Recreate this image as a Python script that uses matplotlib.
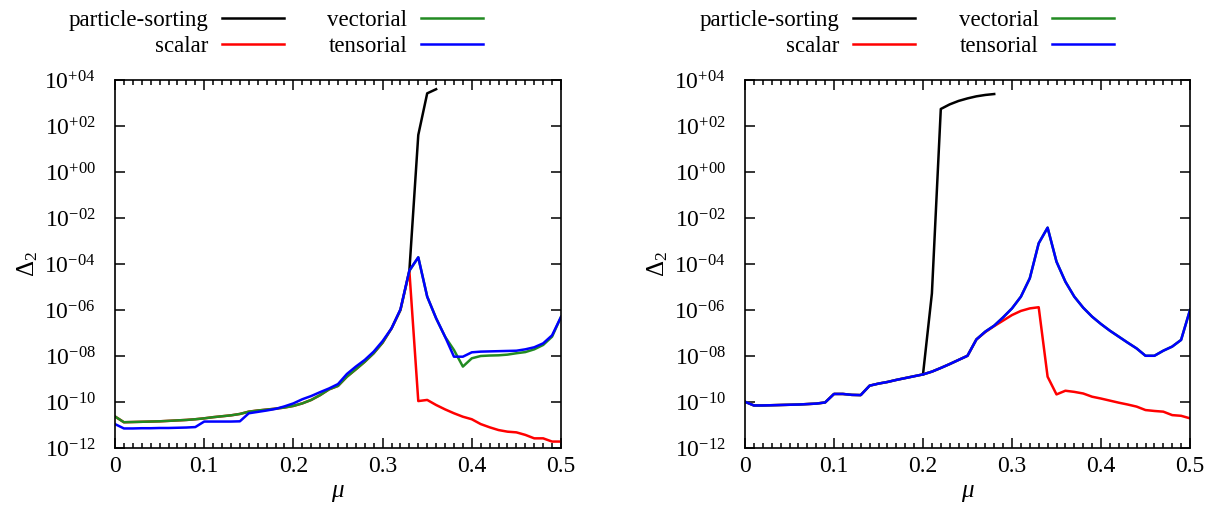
import numpy as np
import matplotlib
matplotlib.use("Agg")
import matplotlib.pyplot as plt
from matplotlib.ticker import FixedLocator, MultipleLocator, NullLocator, FuncFormatter

plt.rcParams['font.family'] = ['Liberation Serif', 'DejaVu Serif']
plt.rcParams['mathtext.fontset'] = 'custom'
plt.rcParams['mathtext.rm'] = 'Liberation Serif'
plt.rcParams['mathtext.it'] = 'Liberation Serif:italic'

# ---------------- data (log10 of Delta_2) ----------------
mu = np.round(np.arange(51) * 0.01, 2)

# left panel
left_vectorial = [-10.63, -10.88, -10.87, -10.86, -10.85, -10.84, -10.82, -10.80, -10.78, -10.75,
                  -10.71, -10.66, -10.62, -10.58, -10.52, -10.42, -10.37, -10.33, -10.29, -10.24,
                  -10.17, -10.06, -9.91, -9.70, -9.45, -9.30, -8.90, -8.58, -8.25, -7.88,
                  -7.42, -6.80, -6.00, -4.30, -3.71, -5.42, -6.36, -7.16, -7.74, -8.46,
                  -8.10, -8.00, -7.98, -7.97, -7.94, -7.88, -7.83, -7.71, -7.52, -7.16,
                  -6.30]
left_tensorial = [-10.96, -11.15, -11.15, -11.14, -11.14, -11.13, -11.13, -11.12, -11.11, -11.09,
                  -10.85, -10.85, -10.85, -10.85, -10.84, -10.49, -10.43, -10.37, -10.30, -10.19,
                  -10.06, -9.88, -9.74, -9.57, -9.41, -9.22, -8.78, -8.46, -8.17, -7.81,
                  -7.35, -6.80, -5.97, -4.28, -3.71, -5.42, -6.36, -7.16, -8.03, -8.03,
                  -7.84, -7.81, -7.80, -7.79, -7.78, -7.77, -7.71, -7.62, -7.45, -7.10,
                  -6.30]
left_scalar_tail = [-9.96, -9.91, -10.13, -10.32, -10.49, -10.64, -10.75, -10.96, -11.10, -11.22,
                    -11.29, -11.32, -11.43, -11.58, -11.58, -11.72, -11.72]
left_scalar = left_vectorial[:34] + left_scalar_tail
left_ps_mu = [0.33, 0.34, 0.35, 0.36]
left_ps = [-4.30, 1.61, 3.42, 3.60]

# right panel
right_tensorial = [-9.99, -10.15, -10.15, -10.14, -10.13, -10.12, -10.11, -10.09, -10.07, -10.02,
                   -9.65, -9.65, -9.69, -9.70, -9.29, -9.20, -9.13, -9.04, -8.96, -8.88,
                   -8.80, -8.68, -8.52, -8.35, -8.17, -7.99, -7.28, -6.94, -6.68, -6.32,
                   -5.93, -5.42, -4.62, -3.10, -2.42, -3.90, -4.77, -5.42, -5.90, -6.29,
                   -6.61, -6.90, -7.16, -7.42, -7.67, -7.99, -7.99, -7.77, -7.59, -7.30,
                   -6.00]
right_vectorial = list(right_tensorial)
right_scalar_tail = [-6.96, -6.70, -6.46, -6.22, -6.04, -5.93, -5.88, -8.90, -9.67, -9.51,
                     -9.56, -9.63, -9.77, -9.85, -9.94, -10.03, -10.11, -10.20, -10.35, -10.39,
                     -10.42, -10.57, -10.60, -10.71]
right_scalar = right_tensorial[:27] + right_scalar_tail
right_ps_mu = [0.20, 0.21, 0.22, 0.23, 0.24, 0.25, 0.26, 0.27, 0.28]
right_ps = [-8.80, -5.28, 2.74, 2.94, 3.09, 3.20, 3.29, 3.35, 3.39]

labels = ['particle-sorting', 'scalar', 'vectorial', 'tensorial']
colors = ['black', '#ff0000', '#228b22', '#0000ff']

W, H = 1217, 513
fig = plt.figure(figsize=(W / 100, H / 100), dpi=100)
ax1 = fig.add_axes([115 / W, 65 / H, 446 / W, 368 / H])
ax2 = fig.add_axes([745 / W, 65 / H, 445 / W, 368 / H])

panels = [
    (ax1, left_ps_mu, left_ps, left_scalar, left_vectorial, left_tensorial, 275.5),
    (ax2, right_ps_mu, right_ps, right_scalar, right_vectorial, right_tensorial, 907),
]

def yfmt(v, p):
    k = int(round(np.log10(v)))
    return r'$\mathregular{10^{%s%02d}}$' % ('+' if k >= 0 else '-', abs(k))

def xfmt(v, p):
    return '0' if abs(v) < 1e-9 else '%.1f' % v

lw = 1.8
for ax, pmu, ps, sc, vec, ten, cx in panels:
    ax.plot(pmu, 10.0 ** np.array(ps), color=colors[0], lw=lw, label=labels[0])
    ax.plot(mu, 10.0 ** np.array(sc), color=colors[1], lw=lw, label=labels[1])
    ax.plot(mu, 10.0 ** np.array(vec), color=colors[2], lw=lw, label=labels[2])
    ax.plot(mu, 10.0 ** np.array(ten), color=colors[3], lw=lw, label=labels[3])
    ax.set_yscale('log')
    ax.set_xlim(0, 0.5)
    ax.set_ylim(1e-12, 1e4)
    ax.yaxis.set_major_locator(FixedLocator([10.0 ** k for k in range(-12, 5, 2)]))
    ax.yaxis.set_minor_locator(NullLocator())
    ax.yaxis.set_major_formatter(FuncFormatter(yfmt))
    ax.xaxis.set_major_locator(MultipleLocator(0.1))
    ax.xaxis.set_minor_locator(MultipleLocator(0.01))
    ax.xaxis.set_major_formatter(FuncFormatter(xfmt))
    ax.tick_params(which='both', direction='in', top=True, right=True, width=1.1, labelsize=17)
    ax.tick_params(which='major', length=7)
    ax.tick_params(which='minor', length=3.5)
    ax.tick_params(axis='y', pad=14)
    ax.tick_params(axis='x', pad=6)
    for s in ax.spines.values():
        s.set_linewidth(1.2)
    ax.set_xlabel(r'$\mu$', fontsize=18, labelpad=3)
    ax.set_ylabel(r'$\Delta_2$', fontsize=18, labelpad=3)
    ax.legend(ncol=2, markerfirst=False, frameon=False, loc='center',
              bbox_to_anchor=(cx / W, 1 - 33.5 / H), bbox_transform=fig.transFigure,
              handlelength=2.7, handletextpad=0.6, columnspacing=1.9,
              labelspacing=0.22, borderpad=0, fontsize=16.5)

fig.savefig('out.png', dpi=100)
